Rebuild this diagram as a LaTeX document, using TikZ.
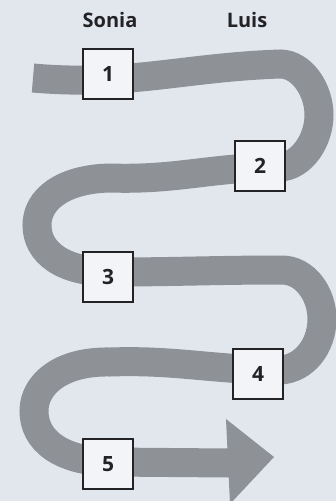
\documentclass[tikz,border=0pt]{standalone}
\usepackage{fontspec}
\setmainfont{Open Sans}
\usepackage{xcolor}
\usepackage{tikz}
\usetikzlibrary{calc}
\definecolor{paperbg}{RGB}{226,231,238}
\definecolor{ribbongray}{RGB}{142,145,149}
\definecolor{boxfill}{RGB}{242,244,247}
\definecolor{inkdark}{RGB}{35,35,38}
\tikzset{
  ribbon/.style={draw=ribbongray, line width=29pt, line cap=butt},
  ribbonhead/.style={fill=ribbongray},
  numbox/.style={
    rectangle, draw=inkdark, line width=1.4pt, fill=boxfill,
    minimum size=50pt, inner sep=0pt, font=\fontsize{21}{21}\selectfont\bfseries, text=inkdark
  },
  person/.style={font=\fontsize{20}{20}\selectfont\bfseries, text=inkdark},
}
\begin{document}
\begin{tikzpicture}[x=1pt, y=-1pt]
  \useasboundingbox[fill=paperbg] (0,0) rectangle (336,501);

  %% ── serpentine ribbon ──
  \draw[ribbon] (33,78) to[out=-5,in=182] (280,64)
    .. controls (302,64) and (319,90) .. (319,115)
    .. controls (319,140) and (302,166) .. (280,167)
    to[out=180,in=-2] (110,178)
    .. controls (62,179) and (37,200) .. (37,225)
    .. controls (37,252) and (62,272) .. (110,272)
    to[out=0,in=180] (282,270)
    .. controls (305,270) and (322,294) .. (322,319)
    .. controls (322,346) and (304,369) .. (280,370)
    to[out=180,in=2] (110,362)
    .. controls (60,361) and (34,385) .. (34,411)
    .. controls (34,440) and (60,461) .. (110,462)
    -- (229,463);
  \fill[ribbonhead] (226,419) -- (274,457) -- (230,504) -- cycle;

  %% ── names ──
  \node[person] (sonia) at (110,20) {Sonia};
  \node[person] (luis)  at (247,20) {Luis};

  %% ── numbered boxes ──
  \node[numbox] (b1) at (108,74)  {1};
  \node[numbox] (b2) at (260,166) {2};
  \node[numbox] (b3) at (108,277) {3};
  \node[numbox] (b4) at (258,374) {4};
  \node[numbox] (b5) at (108,464) {5};
\end{tikzpicture}
\end{document}
